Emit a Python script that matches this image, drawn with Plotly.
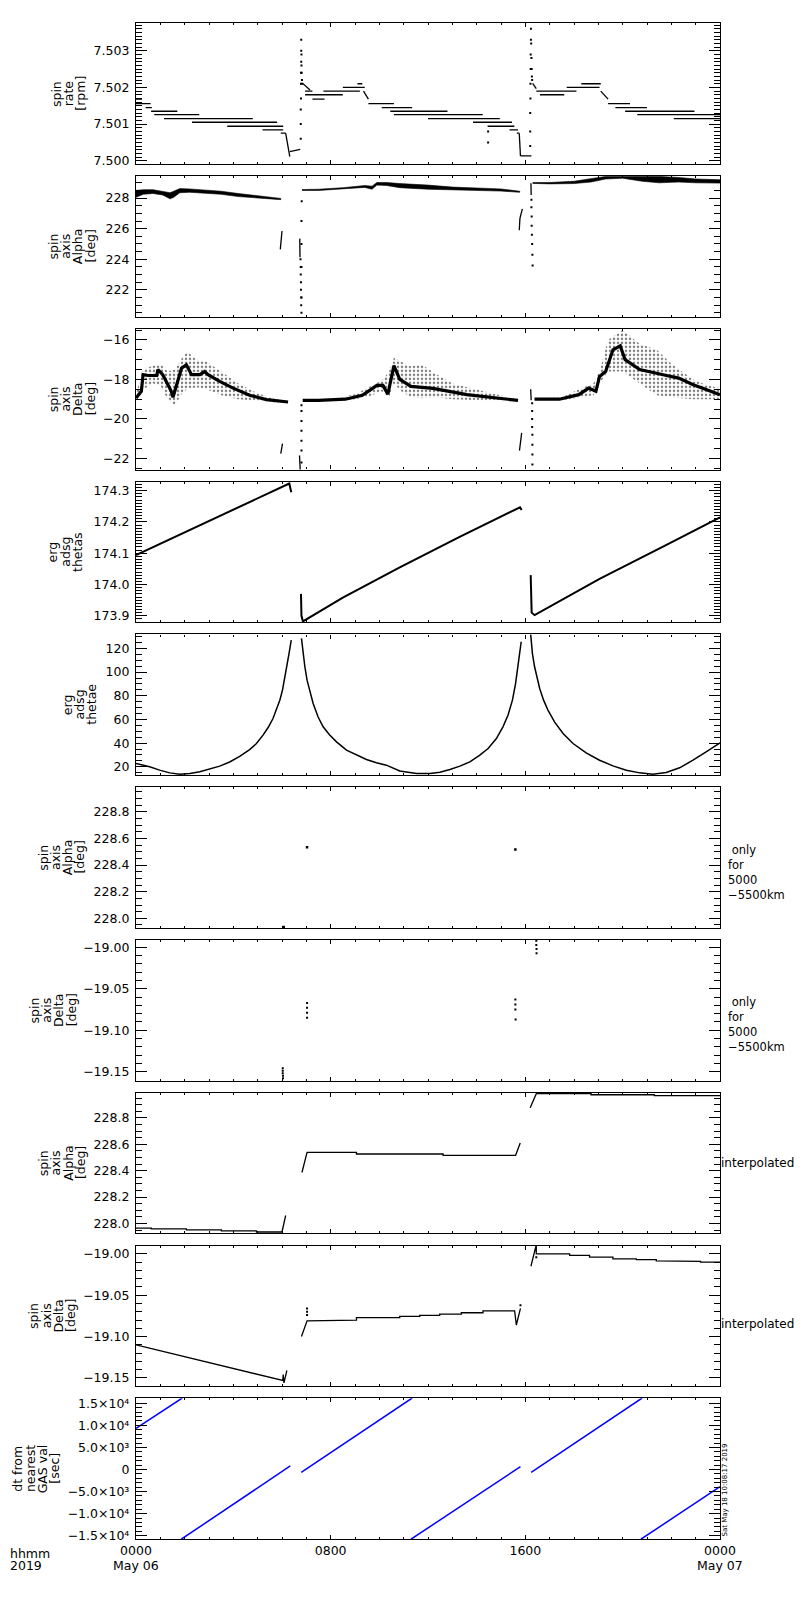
import plotly.graph_objects as go

# ---------------- data (hours from 2019-05-06 00:00) ----------------

# panel 1: spin rate [rpm], quantized runs: start h, end h, start value, end value
rate_t0 = [0.00, 0.00, 0.40, 0.62, 0.75, 1.15, 2.30, 3.75, 5.20, 5.95, 6.15, 6.32,
           6.85, 6.95, 6.95, 7.25, 7.70, 8.50, 9.10, 9.35, 9.55, 10.10, 10.45, 10.60,
           12.00, 13.85, 14.45, 15.35, 15.65, 15.75, 15.80,
           16.30, 16.45, 16.60, 17.70, 18.30, 19.10, 19.40, 19.70, 20.10, 20.60, 22.10]
rate_t1 = [0.25, 0.60, 0.65, 1.70, 2.60, 4.80, 5.80, 6.05, 6.05, 6.15, 6.32, 6.75,
           7.15, 7.25, 8.50, 7.75, 9.20, 9.40, 9.30, 9.55, 10.60, 11.35, 12.80, 14.25,
           14.95, 15.45, 15.55, 15.70, 15.75, 15.80, 16.25,
           16.45, 18.10, 17.60, 19.05, 19.10, 19.40, 20.30, 21.00, 22.95, 24.00, 24.00]
rate_v0 = [7.50168, 7.50156, 7.50145, 7.50135, 7.50126, 7.50115, 7.50105, 7.50094, 7.50084,
           7.50075, 7.50075, 7.50025,
           7.50211, 7.50190, 7.50180, 7.50168, 7.50190, 7.50200, 7.50210, 7.50190, 7.50156,
           7.50145, 7.50135, 7.50126, 7.50115, 7.50105, 7.50094, 7.50084, 7.50075, 7.50075,
           7.50013,
           7.50211, 7.50190, 7.50180, 7.50200, 7.50210, 7.50190, 7.50156, 7.50145, 7.50135,
           7.50126, 7.50115]
rate_v1 = [7.50168, 7.50156, 7.50145, 7.50135, 7.50126, 7.50115, 7.50105, 7.50094, 7.50084,
           7.50075, 7.50011, 7.50031,
           7.50193, 7.50190, 7.50180, 7.50168, 7.50190, 7.50200, 7.50210, 7.50168, 7.50156,
           7.50145, 7.50135, 7.50126, 7.50115, 7.50105, 7.50094, 7.50084, 7.50075, 7.50013,
           7.50013,
           7.50197, 7.50190, 7.50180, 7.50200, 7.50210, 7.50168, 7.50156, 7.50145, 7.50135,
           7.50126, 7.50115]
# dotted spikes at the perigee passes
rate_dot_h = [6.77, 6.77, 6.77, 6.78, 6.78, 6.78, 6.79, 6.79, 6.79, 6.80, 6.80, 6.81, 6.82, 6.83,
              16.20, 16.20, 16.20, 16.21, 16.21, 16.22, 16.22, 16.23, 16.23, 16.24, 16.25, 16.26,
              16.27, 16.28, 14.47, 14.47]
rate_dot_v = [7.5006, 7.5010, 7.5014, 7.5017, 7.5021, 7.5024, 7.5027, 7.5030, 7.5033, 7.5029,
              7.5026, 7.5024, 7.5022, 7.5021,
              7.5004, 7.5008, 7.5013, 7.5017, 7.5021, 7.5025, 7.5029, 7.5033, 7.5036, 7.5032,
              7.5028, 7.5025, 7.5023, 7.5022, 7.5008, 7.5005]

# panel 2: spin axis alpha [deg], band envelopes per pass
alpha_h1 = [0.0, 0.3, 0.7, 1.1, 1.4, 1.55, 1.8, 2.2, 2.8, 3.5, 4.2, 5.0, 5.6, 5.95]
alpha_up1 = [228.50, 228.55, 228.55, 228.45, 228.35, 228.45, 228.62, 228.60, 228.55, 228.45,
             228.30, 228.15, 228.05, 227.98]
alpha_lo1 = [228.05, 228.25, 228.30, 228.20, 227.95, 228.05, 228.35, 228.38, 228.30, 228.25,
             228.10, 228.00, 227.95, 227.90]
alpha_h2 = [6.82, 7.5, 8.5, 9.0, 9.4, 9.7, 9.9, 10.3, 10.84, 12.0, 13.0, 14.0, 15.0, 15.77]
alpha_up2 = [228.56, 228.58, 228.68, 228.78, 228.82, 228.78, 229.02, 229.02, 228.95, 228.85,
             228.72, 228.66, 228.60, 228.45]
alpha_lo2 = [228.50, 228.50, 228.58, 228.65, 228.70, 228.58, 228.85, 228.82, 228.68, 228.58,
             228.54, 228.50, 228.46, 228.38]
alpha_h3 = [16.3, 17.0, 18.0, 18.7, 19.3, 20.0, 20.8, 21.5, 22.3, 23.0, 24.0]
alpha_up3 = [229.02, 229.02, 229.10, 229.25, 229.42, 229.42, 229.40, 229.42, 229.35, 229.25, 229.20]
alpha_lo3 = [228.96, 228.93, 228.95, 229.05, 229.25, 229.30, 229.10, 229.00, 229.05, 229.00, 228.98]
# short jumps around perigee: start h, end h, start value, end value
alpha_jt0 = [5.93, 6.73, 15.75, 15.78, 16.23]
alpha_jt1 = [6.00, 6.74, 15.78, 15.88, 16.24]
alpha_jv0 = [224.65, 225.35, 225.90, 226.70, 228.97]
alpha_jv1 = [225.85, 224.13, 226.70, 227.30, 228.20]
alpha_dot_h = [6.76, 6.77, 6.77, 6.78, 6.78, 6.79, 6.79, 6.80, 6.80, 6.80, 6.80, 6.80, 6.81,
               16.25, 16.25, 16.26, 16.26, 16.27, 16.28, 16.29, 16.30]
alpha_dot_v = [224.0, 223.5, 223.0, 222.5, 222.0, 221.5, 221.0, 220.5, 221.5, 223.5, 225.0,
               226.5, 227.8, 227.9, 227.4, 226.8, 226.2, 225.6, 225.0, 224.3, 223.6]

# panel 3: spin axis delta [deg], core line and scatter envelope per pass
delta_h1 = [0.0, 0.22, 0.29, 0.5, 0.85, 0.9, 1.1, 1.45, 1.52, 1.66, 1.87, 2.07, 2.28, 2.62,
            2.82, 2.96, 3.44, 3.99, 4.67, 5.36, 6.25]
delta_c1 = [-18.94, -18.6, -17.76, -17.8, -17.8, -17.5, -17.76, -18.6, -18.9, -18.35, -17.43,
            -17.26, -17.76, -17.76, -17.6, -17.76, -18.1, -18.44, -18.8, -19.02, -19.14]
delta_eh1 = [0.0, 0.3, 0.7, 1.0, 1.3, 1.6, 1.9, 2.1, 2.5, 2.9, 3.5, 4.2, 5.0, 5.6, 6.25]
delta_up1 = [-18.7, -17.5, -17.3, -17.2, -17.6, -17.5, -16.9, -16.6, -17.0, -17.1, -17.6,
             -18.2, -18.7, -18.95, -19.12]
delta_lo1 = [-19.1, -18.5, -18.2, -18.3, -19.0, -19.3, -18.7, -18.5, -18.4, -18.5, -18.8,
             -19.0, -19.1, -19.15, -19.16]
delta_h2 = [6.85, 7.5, 8.6, 9.3, 9.6, 9.9, 10.15, 10.35, 10.6, 10.84, 11.3, 12.2, 13.6, 14.95, 15.7]
delta_c2 = [-19.06, -19.06, -19.0, -18.8, -18.55, -18.3, -18.3, -18.75, -17.3, -18.0, -18.35,
            -18.45, -18.77, -18.94, -19.06]
delta_eh2 = [6.85, 8.0, 9.0, 9.6, 10.1, 10.4, 10.6, 10.9, 11.3, 11.7, 12.3, 13.0, 14.0, 15.0, 15.7]
delta_up2 = [-19.02, -19.0, -18.75, -18.35, -18.05, -17.6, -16.9, -17.1, -17.35, -17.2, -17.7,
             -18.2, -18.5, -18.8, -19.03]
delta_lo2 = [-19.08, -19.1, -19.0, -18.85, -18.6, -18.9, -18.2, -18.6, -18.9, -18.95, -18.9,
             -19.0, -19.05, -19.05, -19.08]
delta_h3 = [16.38, 17.4, 18.2, 18.6, 18.9, 19.05, 19.3, 19.6, 19.9, 20.1, 20.7, 21.2, 21.8,
            22.3, 22.9, 23.4, 24.0]
delta_c3 = [-19.0, -19.0, -18.77, -18.44, -18.6, -17.85, -17.6, -16.5, -16.3, -17.0, -17.5,
            -17.65, -17.8, -17.93, -18.27, -18.5, -18.77]
delta_eh3 = [16.38, 17.5, 18.2, 18.8, 19.05, 19.4, 20.0, 20.7, 21.4, 22.0, 22.9, 23.5, 24.0]
delta_up3 = [-18.95, -18.9, -18.5, -18.2, -17.6, -16.0, -15.5, -16.2, -16.5, -17.2, -18.0,
             -18.3, -18.45]
delta_lo3 = [-19.05, -19.05, -18.9, -18.8, -18.2, -17.6, -17.6, -18.2, -18.8, -18.9, -19.0,
             -19.0, -19.0]
delta_jt0 = [5.95, 6.72, 15.76, 16.22]
delta_jt1 = [6.02, 6.75, 15.85, 16.24]
delta_jv0 = [-21.75, -21.85, -21.6, -18.5]
delta_jv1 = [-21.25, -22.6, -20.7, -19.05]
delta_dot_h = [6.80, 6.80, 6.80, 6.80, 6.80, 6.80, 6.80, 16.28, 16.28, 16.28, 16.28, 16.29,
               16.29, 16.29, 16.29]
delta_dot_v = [-19.3, -19.6, -20.1, -20.6, -21.1, -21.6, -22.2, -19.2, -19.6, -20.0, -20.4,
               -20.8, -21.3, -21.8, -22.3]

# panel 4: erg adsg thetas
thetas_h1 = [0.0, 6.30, 6.38]
thetas_v1 = [174.094, 174.323, 174.295]
thetas_h2 = [6.78, 6.80, 6.86, 8.5, 10.84, 13.3, 15.78, 15.85]
thetas_v2 = [173.97, 173.90, 173.882, 173.958, 174.055, 174.152, 174.247, 174.238]
thetas_h3 = [16.22, 16.26, 16.38, 19.05, 21.8, 24.0]
thetas_v3 = [174.03, 173.91, 173.902, 174.018, 174.127, 174.215]

# panel 5: erg adsg thetae
thetae_h1 = [0.0, 0.56, 0.97, 1.39, 1.80, 2.21, 2.62, 3.03, 3.44, 3.85, 4.26, 4.67, 4.95, 5.22,
             5.43, 5.63, 5.77, 5.91, 6.02, 6.11, 6.21, 6.29, 6.38]
thetae_v1 = [22.8, 20.0, 17.2, 14.9, 13.8, 14.4, 15.8, 18.0, 20.6, 24.1, 28.9, 34.6, 39.7, 46.8,
             53.2, 60.8, 67.9, 76.3, 84.8, 94.6, 104.5, 115.8, 127.0]
thetae_h2 = [6.80, 6.87, 6.94, 7.03, 7.14, 7.28, 7.48, 7.69, 7.96, 8.24, 8.65, 9.06, 9.47, 9.88,
             10.29, 10.84, 11.53, 12.08, 12.49, 12.90, 13.31, 13.72, 14.13, 14.47, 14.81, 15.08,
             15.29, 15.47, 15.60, 15.71, 15.79, 15.83]
thetae_v2 = [128.5, 115.8, 104.5, 93.2, 83.4, 73.5, 62.3, 53.8, 46.8, 41.1, 34.1, 29.9, 26.2,
             23.4, 21.4, 16.5, 14.4, 14.4, 15.5, 17.7, 20.6, 24.2, 29.9, 35.5, 43.9, 53.8, 63.7,
             76.3, 90.4, 107.3, 120.0, 125.6]
thetae_h3 = [16.22, 16.29, 16.38, 16.48, 16.59, 16.75, 16.93, 17.20, 17.55, 17.96, 18.50, 19.05,
             19.60, 20.15, 20.70, 21.24, 21.79, 22.34, 22.89, 23.43, 24.0]
thetae_v3 = [131.8, 115.8, 104.5, 94.6, 86.2, 76.3, 67.9, 58.0, 48.2, 39.7, 31.8, 25.6, 20.8,
             17.2, 14.9, 13.8, 15.2, 19.2, 25.6, 32.7, 40.3]

# panel 6/7: spin axis only for 5000-5500 km
alt_alpha_h = [6.07, 7.03, 15.59]
alt_alpha_v = [227.935, 228.534, 228.517]
alt_delta_h = [6.03, 6.03, 6.03, 6.04, 6.04, 7.03, 7.03, 7.03, 7.03, 15.59, 15.59, 15.59,
               15.60, 16.45, 16.45, 16.46, 16.46]
alt_delta_v = [-19.146, -19.149, -19.152, -19.155, -19.158, -19.067, -19.073, -19.079, -19.085,
               -19.063, -19.069, -19.075, -19.087, -18.992, -18.997, -19.002, -19.007]

# panel 8: interpolated alpha
ialpha_h1 = [0.0, 0.63, 0.63, 2.07, 2.07, 3.51, 3.51, 4.95, 4.95, 6.0, 6.15]
ialpha_v1 = [227.965, 227.965, 227.958, 227.958, 227.951, 227.951, 227.943, 227.943, 227.935,
             227.935, 228.06]
ialpha_h2 = [6.82, 7.03, 9.06, 9.06, 12.62, 12.62, 15.60, 15.79]
ialpha_v2 = [228.386, 228.538, 228.538, 228.526, 228.526, 228.516, 228.516, 228.61]
ialpha_h3 = [16.2, 16.45, 18.7, 18.7, 21.3, 21.3, 24.0]
ialpha_v3 = [228.876, 228.983, 228.983, 228.975, 228.975, 228.968, 228.968]

# panel 9: interpolated delta
idelta_h1 = [0.0, 6.03, 6.05, 6.08, 6.2]
idelta_v1 = [-19.110, -19.153, -19.146, -19.156, -19.141]
idelta_h2 = [6.80, 7.03, 9.06, 9.06, 10.84, 10.84, 11.66, 11.66, 12.48, 12.48, 13.37, 13.37,
             14.26, 14.26, 15.56, 15.63, 15.80]
idelta_v2 = [-19.100, -19.081, -19.080, -19.077, -19.077, -19.0756, -19.0756, -19.0744,
             -19.0744, -19.0728, -19.0728, -19.0712, -19.0712, -19.069, -19.069, -19.086, -19.066]
idelta_h3 = [16.23, 16.45, 16.45, 17.82, 17.82, 18.64, 18.64, 19.6, 19.6, 20.56, 20.56, 21.38,
             21.38, 22.34, 22.34, 23.2, 23.2, 24.0]
idelta_v3 = [-19.015, -18.989, -19.000, -19.000, -19.002, -19.002, -19.004, -19.004, -19.006,
             -19.006, -19.007, -19.007, -19.0085, -19.0085, -19.009, -19.009, -19.010, -19.010]
idelta_dot_h = [7.03, 7.03, 7.03, 15.80, 16.45]
idelta_dot_v = [-19.066, -19.070, -19.074, -19.062, -19.004]

# panel 10: dt from nearest GAS val [sec], segments start h, end h, start dt, end dt
dt_t0 = [0.00, 1.86, 6.79, 11.30, 16.24, 20.75]
dt_t1 = [1.90, 6.34, 11.35, 15.80, 20.80, 24.00]
dt_v0 = [9300, -15800, -650, -15800, -650, -15800]
dt_v1 = [16200, 800, 16200, 650, 16200, -3900]
dt_tickvals = [-15000, -10000, -5000, 0, 5000, 10000, 15000]
dt_ticktext = ["\u22121.5\u00d710\u2074", "\u22121.0\u00d710\u2074", "\u22125.0\u00d710\u00b3",
               "0", "5.0\u00d710\u00b3", "1.0\u00d710\u2074", "1.5\u00d710\u2074"]

x_tickvals = [0, 8, 16, 24]
x_ticktext = ["0000", "0800", "1600", "0000"]

# ---------------- layout helpers ----------------
FONT = dict(family="DejaVu Sans", size=12.5, color="black")
L, R, T, B = 136, 720, 23, 1539
TOP0, PITCH, PH = 23.3, 152.78, 140.7


def px_x(px):
    return (px - L) / (R - L)


def px_y(py):
    return (B - py) / (B - T)


def segs(t0, t1, v0, v1):
    xs, ys = [], []
    for a, b, c, d in zip(t0, t1, v0, v1):
        xs += [a, b, None]
        ys += [c, d, None]
    return xs, ys


def band(h, up, lo):
    return list(h) + list(h[::-1]), list(up) + list(lo[::-1])


fig = go.Figure()


def line(n, x, y, w=1.2, color="black"):
    fig.add_trace(go.Scatter(x=x, y=y, mode="lines", xaxis=f"x{n}", yaxis=f"y{n}",
                             line=dict(color=color, width=w),
                             showlegend=False, hoverinfo="skip"))


def dots(n, x, y, size=2.2):
    fig.add_trace(go.Scatter(x=x, y=y, mode="markers", xaxis=f"x{n}", yaxis=f"y{n}",
                             marker=dict(color="black", size=size, symbol="square"),
                             showlegend=False, hoverinfo="skip"))


def poly(n, x, y, pattern=None):
    kw = dict(fillcolor="black") if pattern is None else dict(
        fillcolor="white", fillpattern=dict(shape=".", fgcolor="black", bgcolor="white",
                                            size=4, solidity=0.3))
    fig.add_trace(go.Scatter(x=x, y=y, mode="lines", fill="toself", xaxis=f"x{n}", yaxis=f"y{n}",
                             line=dict(color="black", width=0.6 if pattern is None else 0),
                             showlegend=False, hoverinfo="skip", **kw))


# panel 1
line(1, *segs(rate_t0, rate_t1, rate_v0, rate_v1), w=1.3)
dots(1, rate_dot_h, rate_dot_v, size=2)

# panel 2
for h, up, lo in [(alpha_h1, alpha_up1, alpha_lo1), (alpha_h2, alpha_up2, alpha_lo2),
                  (alpha_h3, alpha_up3, alpha_lo3)]:
    poly(2, *band(h, up, lo))
line(2, *segs(alpha_jt0, alpha_jt1, alpha_jv0, alpha_jv1), w=1.3)
dots(2, alpha_dot_h, alpha_dot_v, size=2)

# panel 3
for h, up, lo in [(delta_eh1, delta_up1, delta_lo1), (delta_eh2, delta_up2, delta_lo2),
                  (delta_eh3, delta_up3, delta_lo3)]:
    poly(3, *band(h, up, lo), pattern=True)
for h, c in [(delta_h1, delta_c1), (delta_h2, delta_c2), (delta_h3, delta_c3)]:
    line(3, h, c, w=3.2)
line(3, *segs(delta_jt0, delta_jt1, delta_jv0, delta_jv1), w=1.3)
dots(3, delta_dot_h, delta_dot_v, size=2)

# panel 4
for h, v in [(thetas_h1, thetas_v1), (thetas_h2, thetas_v2), (thetas_h3, thetas_v3)]:
    line(4, h, v, w=2)

# panel 5
for h, v in [(thetae_h1, thetae_v1), (thetae_h2, thetae_v2), (thetae_h3, thetae_v3)]:
    line(5, h, v, w=1.5)

# panels 6, 7
dots(6, alt_alpha_h, alt_alpha_v, size=2.5)
dots(7, alt_delta_h, alt_delta_v, size=2)

# panel 8
for h, v in [(ialpha_h1, ialpha_v1), (ialpha_h2, ialpha_v2), (ialpha_h3, ialpha_v3)]:
    line(8, h, v, w=1.3)

# panel 9
for h, v in [(idelta_h1, idelta_v1), (idelta_h2, idelta_v2), (idelta_h3, idelta_v3)]:
    line(9, h, v, w=1.3)
dots(9, idelta_dot_h, idelta_dot_v, size=2)

# panel 10
line(10, *segs(dt_t0, dt_t1, dt_v0, dt_v1), w=1.5, color="#0000ff")

# ---------------- axes ----------------
y_ranges = [[7.49991, 7.50375], [220.24, 229.44], [-22.56, -15.44], [173.879, 174.329],
            [13.0, 131.8], [227.928, 228.985], [-19.161, -18.991], [227.924, 228.99],
            [-19.160, -18.990], [-15748, 16133]]
y_major = [(7.5, 0.001, ".3f"), (222, 2, "d"), (-22, 2, "d"), (173.9, 0.1, ".1f"),
           (20, 20, "d"), (228.0, 0.2, ".1f"), (-19.15, 0.05, ".2f"), (228.0, 0.2, ".1f"),
           (-19.15, 0.05, ".2f"), None]
y_minor = [0.0001, 0.5, 0.5, 0.01, 5, 0.05, 0.01, 0.05, 0.01, 1000]

layout = dict(width=800, height=1600, plot_bgcolor="white", paper_bgcolor="white",
              margin=dict(l=L, r=800 - R, t=T, b=1600 - B, pad=0), font=FONT,
              showlegend=False)
axis_common = dict(showline=True, linecolor="black", linewidth=1.2, mirror="ticks",
                   ticks="inside", tickcolor="black", tickwidth=1, showgrid=False,
                   zeroline=False, tickfont=FONT)
centers = []
for i in range(10):
    n = i + 1
    top = TOP0 + i * PITCH
    bot = top + PH
    centers.append((top + bot) / 2)
    dom = [max(0.0, px_y(bot)), min(1.0, px_y(top))]
    xa = dict(axis_common, domain=[0, 1], range=[0, 24], anchor=f"y{n}",
              tickmode="array", tickvals=x_tickvals, ticktext=x_ticktext, ticklen=4,
              showticklabels=(n == 10),
              minor=dict(dtick=1, tick0=0, ticklen=2, ticks="inside", tickcolor="black"))
    ya = dict(axis_common, domain=dom, range=y_ranges[i], anchor=f"x{n}", ticklen=11,
              ticklabelstandoff=3,
              minor=dict(dtick=y_minor[i], tick0=0, ticklen=6, ticks="inside",
                         tickcolor="black"))
    if y_major[i] is None:
        ya.update(tickmode="array", tickvals=dt_tickvals, ticktext=dt_ticktext)
    else:
        t0, dt, fmt = y_major[i]
        ya.update(tickmode="linear", tick0=t0, dtick=dt, tickformat=fmt)
    layout["xaxis" if n == 1 else f"xaxis{n}"] = xa
    layout["yaxis" if n == 1 else f"yaxis{n}"] = ya

fig.update_layout(**layout)

# ---------------- text ----------------
ann = []


def text(s, xpx, ypx, xanchor="center", angle=0, size=12.5):
    ann.append(dict(text=s, x=px_x(xpx), y=px_y(ypx), xref="paper", yref="paper",
                    xanchor=xanchor, yanchor="middle", showarrow=False, textangle=angle,
                    align="left", font=dict(FONT, size=size)))


y_titles = [["spin", "rate", "[rpm]"], ["spin", "axis", "Alpha", "[deg]"],
            ["spin", "axis", "Delta", "[deg]"], ["erg", "adsg", "thetas"],
            ["erg", "adsg", "thetae"], ["spin", "axis", "Alpha", "[deg]"],
            ["spin", "axis", "Delta", "[deg]"], ["spin", "axis", "Alpha", "[deg]"],
            ["spin", "axis", "Delta", "[deg]"], ["dt from", "nearest", "GAS val", "[sec]"]]
title_last_x = [81, 90, 90, 78, 92, 80, 71, 80, 71, 55]
for i, lines in enumerate(y_titles):
    for k, s in enumerate(lines):
        xpx = title_last_x[i] - (len(lines) - 1 - k) * 12.3
        text(s, xpx, centers[i], angle=-90)

alt_note = "\u00a0only<br>for<br>5000<br>\u22125500km"
text(alt_note, 726, centers[5] + 15, xanchor="left", size=11.5)
text(alt_note, 726, centers[6] + 14.5, xanchor="left", size=11.5)
text("interpolated", 719, 1162.5, xanchor="left", size=12)
text("interpolated", 719, 1324, xanchor="left", size=12)

text("May 06", 136, 1565)
text("May 07", 720, 1565)
text("hhmm", 8, 1553, xanchor="left")
text("2019", 8, 1565, xanchor="left")
ann.append(dict(text="Sat May 18 10:08:17 2019", x=px_x(724), y=px_y(1539), xref="paper",
                yref="paper", xanchor="center", yanchor="bottom", showarrow=False,
                textangle=-90, font=dict(FONT, size=7)))

fig.update_layout(annotations=ann)
fig.write_html("out.html", config={"displayModeBar": False},
               post_script="document.body.style.margin='0';")
